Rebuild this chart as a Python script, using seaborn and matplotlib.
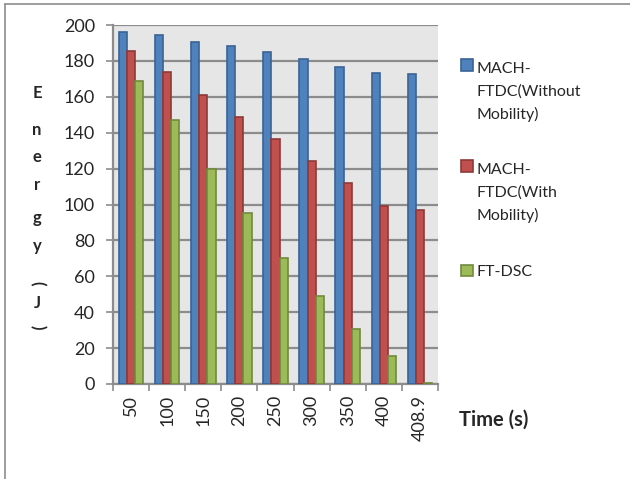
import matplotlib
matplotlib.use("Agg")
import matplotlib.pyplot as plt
from matplotlib.lines import Line2D
from matplotlib.patches import Patch, Rectangle
from matplotlib.legend_handler import HandlerPatch
import seaborn as sns
import pandas as pd

# dados
tempos = ["50", "100", "150", "200", "250", "300", "350", "400", "408.9"]
sem_mobilidade = [196.3, 194.4, 190.5, 188.1, 184.8, 180.9, 176.8, 173.4, 172.7]
com_mobilidade = [185.7, 173.6, 161.2, 148.9, 136.4, 124.2, 111.9, 99.4, 97.0]
ft_dsc = [168.8, 147.2, 119.9, 95.2, 70.1, 49.1, 30.8, 15.6, 0.5]
series = ["MACH-\nFTDC(Without\nMobility)", "MACH-\nFTDC(With\nMobility)", "FT-DSC"]
y_ticks = [0, 20, 40, 60, 80, 100, 120, 140, 160, 180, 200]

cores = ["#4F81BD", "#C0504D", "#9BBB59"]
bordas = ["#3A6496", "#8E3A38", "#71893F"]

df = pd.DataFrame({
    "Tempo": tempos * 3,
    "Energia": sem_mobilidade + com_mobilidade + ft_dsc,
    "Serie": [s for s in series for _ in tempos],
})

sns.set_style("white")
plt.rcParams["font.family"] = ["Lato", "DejaVu Sans"]

fig = plt.figure(figsize=(6.3, 4.79), dpi=100)
ax = fig.add_axes([113 / 630, 1 - 384 / 479, 325 / 630, 359 / 479])
ax.set_facecolor("#E6E6E6")

sns.barplot(data=df, x="Tempo", y="Energia", hue="Serie", order=tempos,
            hue_order=series, palette=cores, width=0.68, ax=ax,
            saturation=1, legend=False, zorder=3)

# bordas das barras
for i, cont in enumerate(ax.containers):
    for barra in cont:
        barra.set_edgecolor(bordas[i])
        barra.set_linewidth(1.2)

ax.set_ylim(0, 200)
ax.set_xlim(-0.5, len(tempos) - 0.5)
ax.set_yticks(y_ticks)
ax.set_yticklabels([str(v) for v in y_ticks], fontsize=13)
ax.yaxis.grid(True, color="#8C8C8C", linewidth=1.6, zorder=0)
ax.set_axisbelow(True)

ax.set_xticks(range(len(tempos)))
ax.set_xticklabels(tempos, rotation=90, fontsize=13)
ax.tick_params(axis="x", length=0, pad=8)
ax.tick_params(axis="y", length=5, color="#8C8C8C", width=1.2, pad=8, direction="out", left=True)
# marcas entre categorias (estilo Excel)
ax.set_xticks([i - 0.5 for i in range(len(tempos) + 1)], minor=True)
ax.tick_params(axis="x", which="minor", length=5, color="#8C8C8C", width=1.2, bottom=True)

for lado in ["top", "right"]:
    ax.spines[lado].set_visible(False)
for lado in ["left", "bottom"]:
    ax.spines[lado].set_color("#8C8C8C")
    ax.spines[lado].set_linewidth(1.6)

ax.set_xlabel("")
ax.set_ylabel("")

# rótulo vertical letra a letra (Excel empilhado)
letras = ["E", "n", "e", "r", "g", "y", "(", "J", ")"]
ys = [93, 130, 157, 185, 218, 246, 283, 303, 327]
for ch, yy in zip(letras, ys):
    rot = -90 if ch in "()" else 0
    fig.text(37 / 630, 1 - yy / 479, ch, fontsize=12, fontweight="bold",
             ha="center", va="center", rotation=rot)

fig.text(459 / 630, 1 - 420 / 479, "Time (s)", fontsize=14.5, fontweight="bold",
         ha="left", va="center")

# legenda com o quadrado alinhado à primeira linha
fs_leg = 11.5
esp_linha = 1.7


def faz_handler(n_linhas):
    desloc = (n_linhas - 1) / 2 * esp_linha * fs_leg

    def patch_func(legend, orig_handle, xdescent, ydescent, width, height, fontsize):
        return Rectangle((-xdescent, -ydescent + desloc), width, height)
    return HandlerPatch(patch_func=patch_func)


handles = [Patch(facecolor=c, edgecolor=b, linewidth=1.2) for c, b in zip(cores, bordas)]
mapa = {h: faz_handler(s.count("\n") + 1) for h, s in zip(handles, series)}
leg = fig.legend(handles, series, loc="upper left", bbox_to_anchor=(461 / 630, 1 - 62 / 479),
                 frameon=False, fontsize=fs_leg, handlelength=0.75, handleheight=0.75,
                 handletextpad=0.25, labelspacing=2.6, handler_map=mapa,
                 borderaxespad=0, borderpad=0)
for t in leg.get_texts():
    t.set_multialignment("left")
    t.set_linespacing(esp_linha)

# moldura (apenas topo e esquerda visíveis)
fig.add_artist(Line2D([5 / 630, 5 / 630], [0, 1 - 4 / 479], color="#8C8C8C", linewidth=1.2))
fig.add_artist(Line2D([5 / 630, 1], [1 - 4 / 479, 1 - 4 / 479], color="#8C8C8C", linewidth=1.2))

fig.savefig("out.png", dpi=100)
